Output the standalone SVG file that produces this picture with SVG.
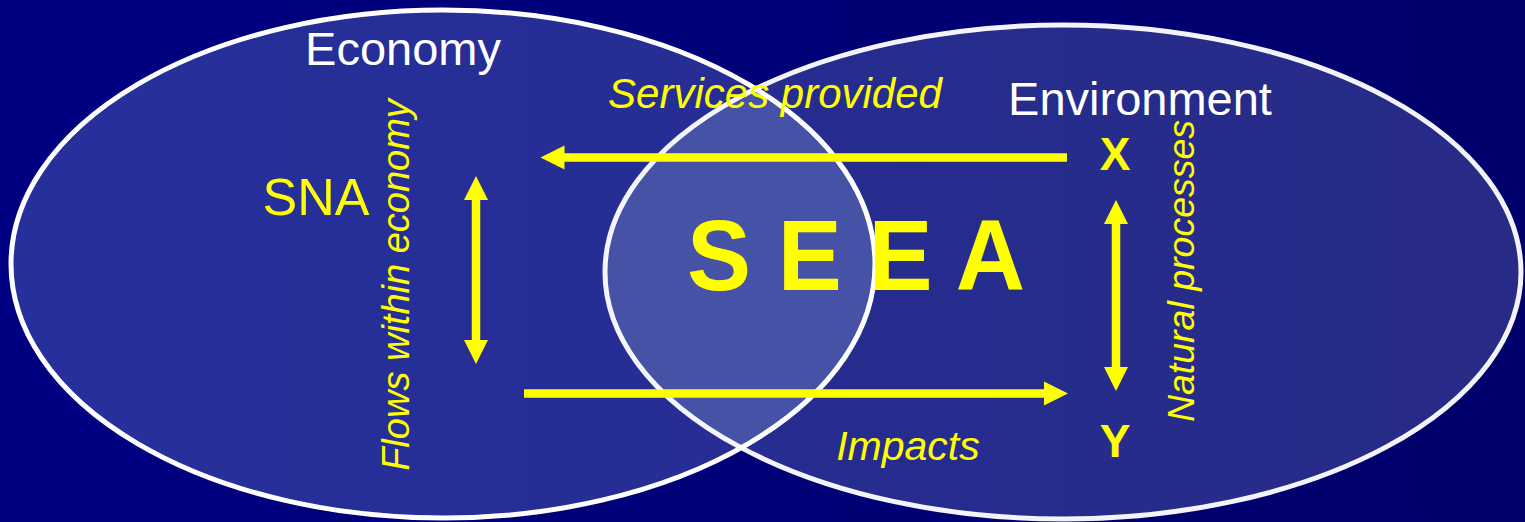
<svg xmlns="http://www.w3.org/2000/svg" width="1525" height="522" viewBox="0 0 1525 522">
<defs>
<linearGradient id="bg" x1="0" y1="0" x2="1" y2="0">
<stop offset="0" stop-color="#000082"/>
<stop offset="1" stop-color="#00006c"/>
</linearGradient>
<linearGradient id="fillL" x1="0" y1="0" x2="1" y2="0">
<stop offset="0" stop-color="#26309c"/>
<stop offset="1" stop-color="#262c92"/>
</linearGradient>
<linearGradient id="fillR" x1="0" y1="0" x2="1" y2="0">
<stop offset="0" stop-color="#262d92"/>
<stop offset="1" stop-color="#272b86"/>
</linearGradient>
<clipPath id="clipL">
<ellipse cx="443" cy="264" rx="432" ry="254"/>
</clipPath>
</defs>
<style>
.ell{stroke:#ffffff;stroke-width:5}
.lbl{font-family:"Liberation Sans",Arial,Helvetica,sans-serif}
.w{fill:#ffffff}
.y{fill:#ffff00}
.it{font-style:italic}
.b{font-weight:bold}
.arr{stroke:#ffff00;stroke-width:8.5;fill:none}
.head{fill:#ffff00}
</style>
<rect x="0" y="0" width="1525" height="522" fill="url(#bg)"/>
<g id="economy">
<ellipse cx="443" cy="264" rx="432" ry="254" fill="url(#fillL)"/>
</g>
<g id="environment">
<ellipse cx="1063" cy="272" rx="458" ry="247" fill="url(#fillR)"/>
</g>
<g id="seea">
<ellipse cx="1063" cy="272" rx="458" ry="247" fill="#4552a6" clip-path="url(#clipL)"/>
</g>
<g id="outlines">
<ellipse class="ell" cx="443" cy="264" rx="432" ry="254" fill="none"/>
<ellipse class="ell" cx="1063" cy="272" rx="458" ry="247" fill="none" stroke-opacity="0.95"/>
</g>
<g id="connectors">
<line class="arr" x1="1067" y1="157.5" x2="562" y2="157.5"/>
<polygon class="head" points="540.5,157.5 564.5,145.5 564.5,169.5"/>
<line class="arr" x1="524" y1="393.5" x2="1046" y2="393.5"/>
<polygon class="head" points="1068,393.5 1044,381.5 1044,405.5"/>
<line class="arr" x1="476" y1="197" x2="476" y2="343"/>
<polygon class="head" points="476,176 464,200 488,200"/>
<polygon class="head" points="476,364 464,340 488,340"/>
<line class="arr" x1="1116" y1="221" x2="1116" y2="370"/>
<polygon class="head" points="1116,200 1104,224 1128,224"/>
<polygon class="head" points="1116,391 1104,367 1128,367"/>
</g>
<g id="labels">
<text class="lbl w" x="403" y="65" font-size="47" text-anchor="middle">Economy</text>
<text class="lbl w" x="1140" y="115" font-size="47" text-anchor="middle">Environment</text>
<text class="lbl y it" x="775" y="108" font-size="42" text-anchor="middle">Services provided</text>
<text class="lbl y" x="316" y="215" font-size="52" text-anchor="middle">SNA</text>
<text class="lbl y it" font-size="38" text-anchor="middle" transform="translate(409,285) rotate(-90)">Flows within economy</text>
<text class="lbl y it" font-size="37.5" text-anchor="middle" transform="translate(1194,271) rotate(-90)">Natural processes</text>
<text class="lbl y it" x="908" y="460" font-size="41" text-anchor="middle">Impacts</text>
<text class="lbl y b" x="1115" y="170" font-size="46" text-anchor="middle">X</text>
<text class="lbl y b" x="1115" y="457" font-size="46" text-anchor="middle">Y</text>
<text class="lbl y b" x="687" y="290" font-size="100" textLength="338" lengthAdjust="spacingAndGlyphs">S E E A</text>
</g>
</svg>
